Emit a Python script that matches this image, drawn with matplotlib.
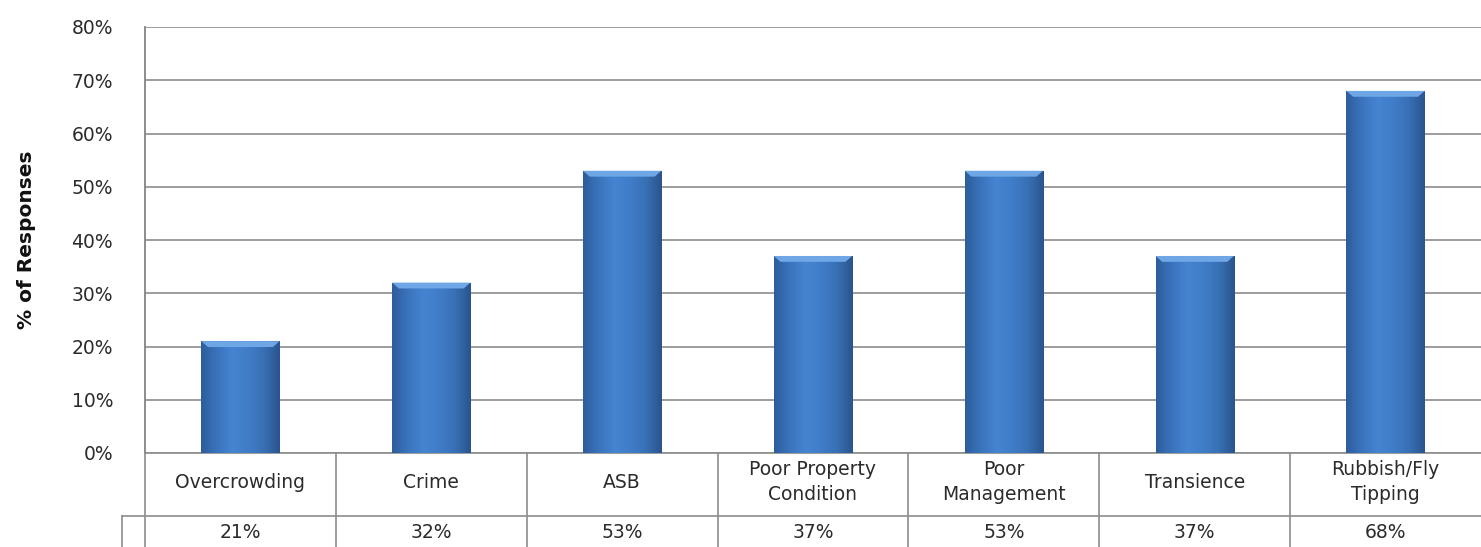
import matplotlib
matplotlib.use("Agg")
import matplotlib.pyplot as plt
import numpy as np
from matplotlib.colors import LinearSegmentedColormap
from matplotlib.patches import Polygon

categories = ["Overcrowding", "Crime", "ASB", "Poor Property\nCondition",
              "Poor\nManagement", "Transience", "Rubbish/Fly\nTipping"]
values = [21, 32, 53, 37, 53, 37, 68]
value_labels = ["21%", "32%", "53%", "37%", "53%", "37%", "68%"]
yticks = [0, 10, 20, 30, 40, 50, 60, 70, 80]

grid_col = "#8c8c8c"
text_col = "#2b2b2b"
fs = 13.5

fig = plt.figure(figsize=(14.81, 5.47), dpi=100)
ax = fig.add_axes([145 / 1481, 94 / 547, 1336 / 1481, 426 / 547])
ax.set_xlim(-0.5, len(categories) - 0.5)
ax.set_ylim(0, 80)

# gridlines
for t in yticks:
    ax.axhline(t, color=grid_col, lw=1.2, zorder=0)

for s in ["top", "right", "bottom"]:
    ax.spines[s].set_visible(False)
ax.spines["left"].set_color(grid_col)
ax.spines["left"].set_linewidth(1.2)

ax.set_yticks(yticks)
ax.set_yticklabels([f"{t}%" for t in yticks], fontsize=fs, color=text_col)
ax.tick_params(axis="y", length=0, pad=23)
ax.set_xticks([])

ax.set_ylabel("% of Responses", fontsize=14.5, fontweight="bold",
              family=["DejaVu Sans"], color="#111111")
ax.yaxis.set_label_coords(-0.0815, 0.5)

# bevelled blue bars
width = 0.41
cmap = LinearSegmentedColormap.from_list(
    "barblue", ["#2d5d9b", "#3b74bd", "#4584d1", "#407dc9", "#3870b4", "#2a548d"])
grad = np.linspace(0, 1, 256).reshape(1, -1)
bars = ax.bar(range(len(values)), values, width=width, color="#3c76c2",
              edgecolor="none", zorder=2)
for i, (b, v) in enumerate(zip(bars, values)):
    x0 = i - width / 2
    im = ax.imshow(grad, cmap=cmap, aspect="auto", extent=[x0, x0 + width, 0, v],
                   zorder=3, interpolation="bicubic")
    im.set_clip_path(b)
    bev = 1.1
    inset = 0.035
    top = Polygon([[x0, v], [x0 + width, v], [x0 + width - inset, v - bev],
                   [x0 + inset, v - bev]], closed=True, facecolor="#6fa6e6",
                  edgecolor="none", zorder=4)
    ax.add_patch(top)

# data table below the axis
tr = ax.get_xaxis_transform()
row1 = -0.148
bottom = -0.3
n = len(categories)
ax.plot([-0.5, n - 0.5], [0, 0], transform=tr, color=grid_col, lw=1.2, clip_on=False)
ax.plot([-0.62, n - 0.5], [row1, row1], transform=tr, color=grid_col, lw=1.2, clip_on=False)
ax.plot([-0.5, -0.5], [1, bottom], transform=tr, color=grid_col, lw=1.2, clip_on=False)
ax.plot([-0.62, -0.62], [row1, bottom], transform=tr, color=grid_col, lw=1.2, clip_on=False)
for k in range(1, n):
    ax.plot([k - 0.5, k - 0.5], [0, bottom], transform=tr, color=grid_col,
            lw=1.2, clip_on=False)

for i, (c, lab) in enumerate(zip(categories, value_labels)):
    ax.text(i, -0.069, c, transform=tr, ha="center", va="center",
            fontsize=fs, color=text_col, linespacing=1.4)
    ax.text(i, -0.186, lab, transform=tr, ha="center", va="center",
            fontsize=fs, color=text_col)

fig.savefig("out.png", dpi=100)
